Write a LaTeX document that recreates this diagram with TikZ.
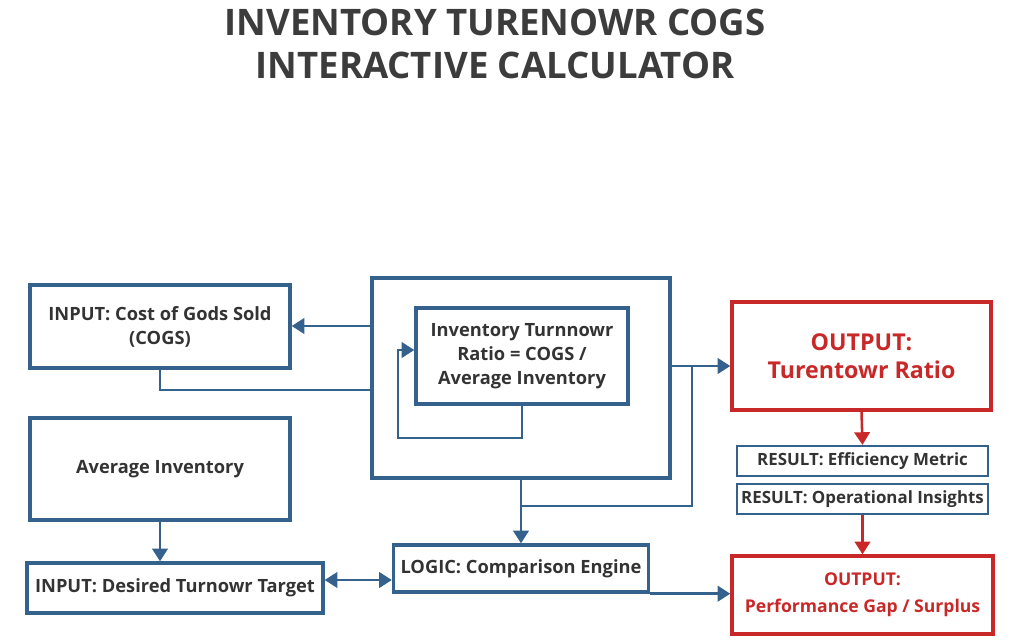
\documentclass[tikz,border=0pt]{standalone}
\usepackage{fontspec}
\setmainfont{Open Sans}
\usetikzlibrary{arrows.meta}
\definecolor{myblue}{RGB}{52,98,140}
\definecolor{myred}{RGB}{200,40,40}
\definecolor{mygray}{RGB}{60,60,60}
\begin{document}
\begin{tikzpicture}[x=0.025cm,y=-0.025cm,
  box/.style={draw=myblue,line width=2.4pt,align=center,font=\fontsize{13}{17}\selectfont\bfseries,text=black!80,inner sep=0pt},
  rbox/.style={draw=myred,line width=2.4pt,align=center,text=myred,font=\fontsize{16.5}{20}\selectfont\bfseries},
  sbox/.style={draw=myblue,line width=1.6pt,align=center,font=\fontsize{12}{14}\selectfont\bfseries,text=black!80,inner sep=0pt},
  link/.style={myblue,line width=1.8pt},
  arr/.style={link,-{Triangle[length=9pt,width=11pt]}},
  rarr/.style={myred,line width=1.8pt,-{Triangle[length=9pt,width=11pt]}}]

  \useasboundingbox (0,0) rectangle (1024,639);

  \node[font=\fontsize{26}{31}\selectfont\bfseries,text=mygray,align=center] (title) at (495,44)
    {INVENTORY TURENOWR COGS\\INTERACTIVE CALCULATOR};

  \node[box,minimum width=260*0.025cm,minimum height=83*0.025cm] (cogs) at (160,326.5) {INPUT: Cost of Gods Sold\\(COGS)};
  \node[box,minimum width=260*0.025cm,minimum height=102*0.025cm] (avg) at (160,469) {Average Inventory};
  \node[box,minimum width=296*0.025cm,minimum height=50*0.025cm] (target) at (175,588) {INPUT: Desired Turnowr Target};
  \node[box,minimum width=298*0.025cm,minimum height=200*0.025cm] (frame) at (521,378) {};
  \node[box,minimum width=212*0.025cm,minimum height=96*0.025cm] (ratio) at (522,356) {Inventory Turnnowr\\Ratio = COGS /\\Average Inventory};
  \node[box,minimum width=255*0.025cm,minimum height=47*0.025cm] (logic) at (521,568.5) {LOGIC: Comparison Engine};
  \node[rbox,minimum width=259*0.025cm,minimum height=108*0.025cm] (outratio) at (861.5,356) {OUTPUT:\\Turentowr Ratio};
  \node[sbox,minimum width=251*0.025cm,minimum height=30*0.025cm] (res1) at (862.5,461) {RESULT: Efficiency Metric};
  \node[sbox,minimum width=251*0.025cm,minimum height=30*0.025cm] (res2) at (862.5,499) {RESULT: Operational Insights};
  \node[rbox,minimum width=261*0.025cm,minimum height=78*0.025cm,font=\fontsize{12.5}{19}\selectfont\bfseries] (outgap) at (862.5,595) {OUTPUT:\\Performance Gap / Surplus};

  % frame to inputs
  \draw[arr] (frame.west |- 0,326) -- (cogs.east |- 0,326);
  \draw[link] (cogs.south) |- (frame.west |- 0,390);
  \draw[arr] (ratio.south) -- (522,438) -| (398,350) -- (ratio.west |- 0,350);
  \draw[arr] (frame.east |- 0,366) -- (outratio.west |- 0,366);
  \draw[link] (692,366) |- (521,506);
  \draw[arr] (frame.south) -- (logic.north);
  \draw[arr] (avg.south) -- (target.north -| avg.south);
  \draw[link,{Triangle[length=9pt,width=11pt]}-{Triangle[length=9pt,width=11pt]}] (target.east |- 0,580) -- (logic.west |- 0,580);
  \draw[arr] (logic.south east) -- (outgap.west |- logic.south);
  \draw[rarr] (outratio.south) -- (res1.north);
  \draw[rarr] (res2.south) -- (outgap.north);
\end{tikzpicture}
\end{document}
